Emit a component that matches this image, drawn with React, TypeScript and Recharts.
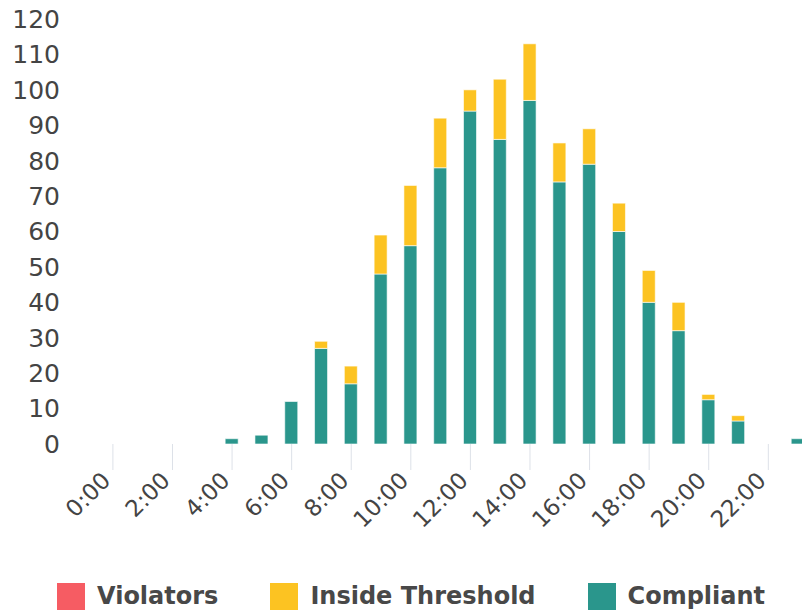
import { BarChart, Bar, XAxis, YAxis } from "recharts";

const HOURS = [
  "0:00", "1:00", "2:00", "3:00", "4:00", "5:00", "6:00", "7:00",
  "8:00", "9:00", "10:00", "11:00", "12:00", "13:00", "14:00", "15:00",
  "16:00", "17:00", "18:00", "19:00", "20:00", "21:00", "22:00", "23:00",
];

const VIOLATORS = [0, 0, 0, 0, 0, 0, 0, 0, 0, 0, 0, 0, 0, 0, 0, 0, 0, 0, 0, 0, 0, 0, 0, 0];
const INSIDE = [0, 0, 0, 0, 0, 0, 0, 2, 5, 11, 17, 14, 6, 17, 16, 11, 10, 8, 9, 8, 1.5, 1.5, 0, 0];
const COMPLIANT = [0, 0, 0, 0, 1.5, 2.5, 12, 27, 17, 48, 56, 78, 94, 86, 97, 74, 79, 60, 40, 32, 12.5, 6.5, 0, 1.5];

const Y_TICKS = [0, 10, 20, 30, 40, 50, 60, 70, 80, 90, 100, 110, 120];

const SERIES = [
  { key: "violators", name: "Violators", color: "#f65c63" },
  { key: "inside", name: "Inside Threshold", color: "#fcc322" },
  { key: "compliant", name: "Compliant", color: "#2a968c" },
];

const data = HOURS.map((hour, i) => ({
  hour,
  violators: VIOLATORS[i],
  inside: INSIDE[i],
  compliant: COMPLIANT[i],
}));

const FONT = "'DejaVu Sans', Verdana, sans-serif";

function HourTick({ x, y, payload }: { x?: number; y?: number; payload?: { value: string } }) {
  const ax = (x ?? 0) - 1;
  const ay = y ?? 0;
  return (
    <text
      x={ax}
      y={ay}
      textAnchor="end"
      transform={`rotate(-45 ${ax} ${ay})`}
      fill="#444"
      fontSize={23}
      fontFamily={FONT}
    >
      {payload?.value}
    </text>
  );
}

function LegendRow() {
  return (
    <div
      style={{
        display: "flex",
        alignItems: "center",
        gap: 52,
        paddingLeft: 49,
        paddingTop: 15,
        lineHeight: "27px",
        fontFamily: FONT,
        fontWeight: "bold",
        fontSize: 24,
        color: "#484848",
      }}
    >
      {SERIES.map((s) => (
        <div key={s.key} style={{ display: "flex", alignItems: "center", gap: 12 }}>
          <span style={{ width: 28, height: 27, background: s.color, display: "inline-block" }} />
          <span>{s.name}</span>
        </div>
      ))}
    </div>
  );
}

export default function App() {
  // fixed frame so the clipped 23:00 bar never causes scrollbars
  return (
    <div
      style={{
        position: "fixed",
        left: 0,
        top: 0,
        width: 802,
        height: 616,
        overflow: "hidden",
        background: "#fff",
      }}
    >
      <div style={{ position: "absolute", left: 8, top: 2 }}>
        <BarChart
          width={805}
          height={566}
          data={data}
          margin={{ top: 17, right: 0, left: 0, bottom: 0 }}
        >
          <YAxis
            width={90}
            domain={[0, 120]}
            ticks={Y_TICKS}
            interval={0}
            axisLine={false}
            tickLine={false}
            tickSize={0}
            tickMargin={38}
            tick={{ fill: "#444", fontSize: 25, fontFamily: FONT }}
          />
          <XAxis
            dataKey="hour"
            height={124}
            interval={1}
            axisLine={false}
            tickSize={26}
            tickMargin={12}
            tickLine={{ stroke: "#dde1e8" }}
            tick={<HourTick />}
          />
          {SERIES.slice().reverse().map((s) => (
            <Bar
              key={s.key}
              dataKey={s.key}
              name={s.name}
              stackId="a"
              fill={s.color}
              stroke="#fff"
              strokeWidth={0.6}
              barSize={13}
              isAnimationActive={false}
            />
          ))}
        </BarChart>
        <LegendRow />
      </div>
    </div>
  );
}
